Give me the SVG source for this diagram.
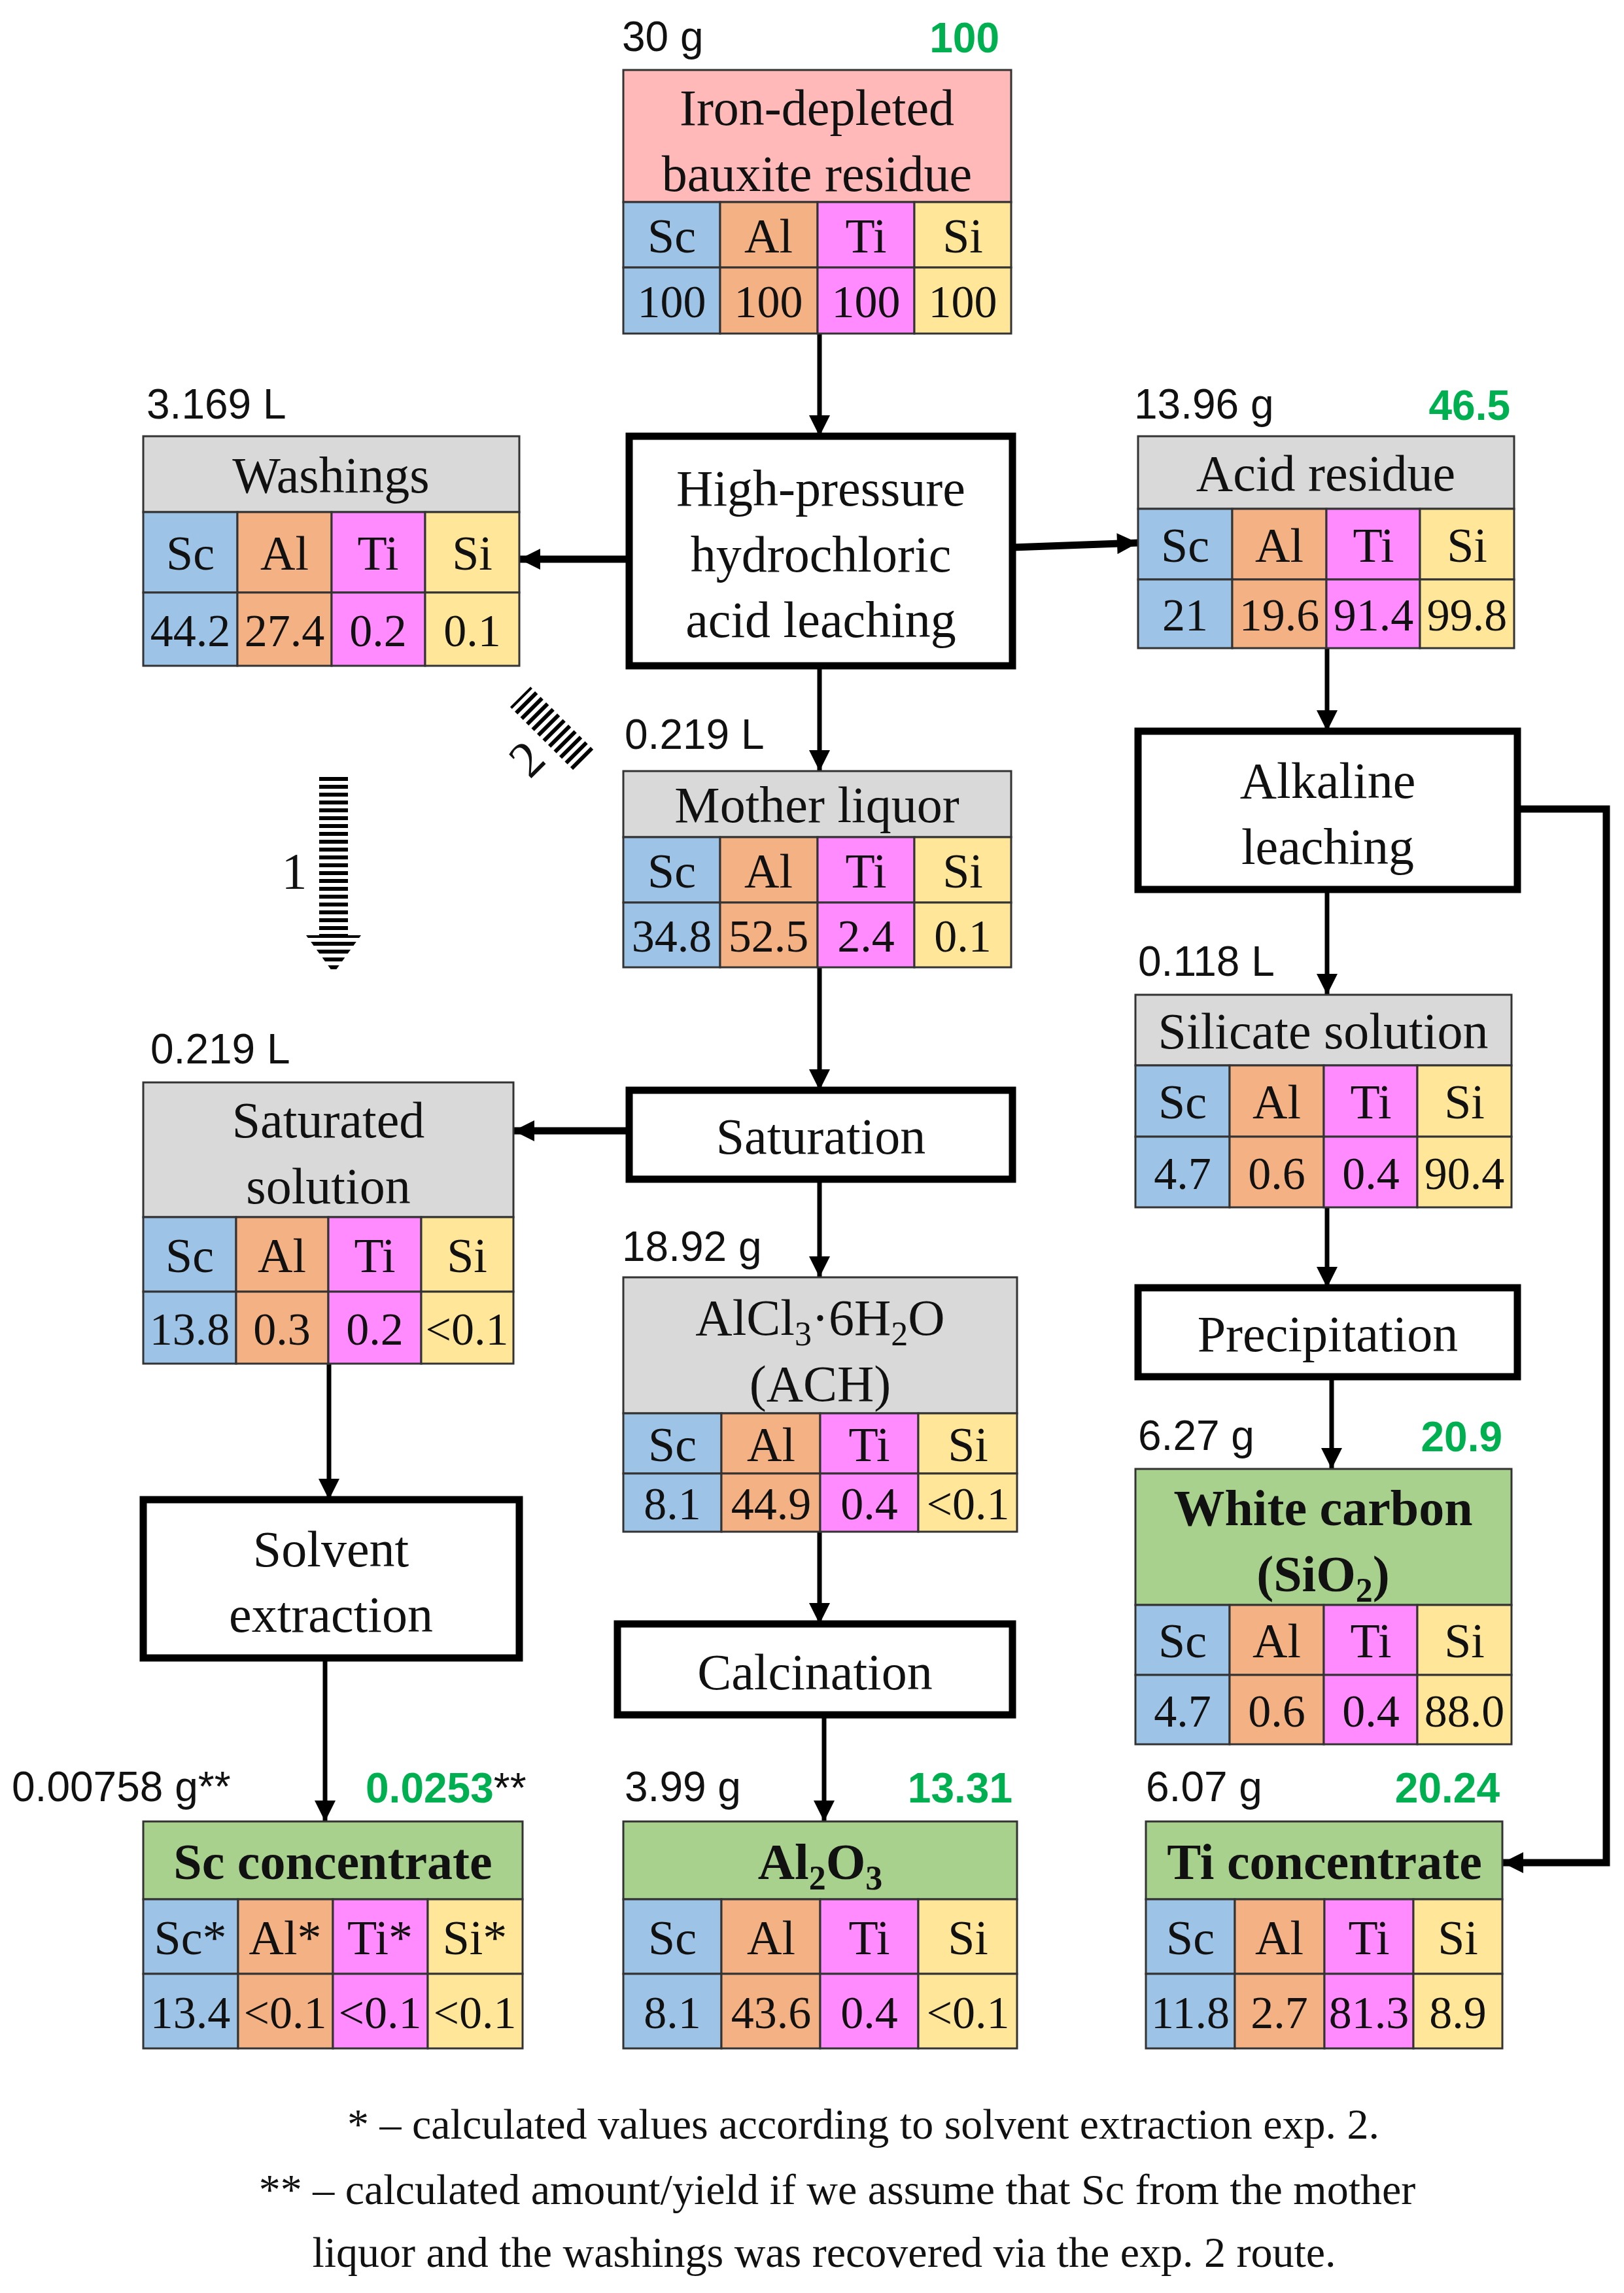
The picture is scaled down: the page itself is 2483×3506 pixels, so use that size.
<svg xmlns="http://www.w3.org/2000/svg" width="2483" height="3506" viewBox="0 0 2483 3506">
<style>
.b{fill:#9DC3E6;stroke:#333;stroke-width:3}
.o{fill:#F4B183;stroke:#333;stroke-width:3}
.m{fill:#FF8BFF;stroke:#333;stroke-width:3}
.y{fill:#FFE699;stroke:#333;stroke-width:3}
.g{fill:#D9D9D9;stroke:#333;stroke-width:3}
.p{fill:#FFB9B9;stroke:#333;stroke-width:3}
.gr{fill:#A9D18E;stroke:#333;stroke-width:3}
.proc{fill:#fff;stroke:#000;stroke-width:11}
text{font-family:"Liberation Serif","Times New Roman",serif;fill:#111;text-anchor:middle}
.t{font-size:78px}
.c{font-size:74px}
.v{font-size:70px}
.bd{font-weight:bold}
.lab{font-family:"Liberation Sans",Arial,sans-serif;font-size:64px;text-anchor:start}
.yl{font-family:"Liberation Sans",Arial,sans-serif;font-size:64px;font-weight:bold;fill:#00B050;text-anchor:end}
.fn{font-size:66px}
.ln{fill:none;stroke:#000;stroke-width:7}
.lt{fill:none;stroke:#000;stroke-width:11}
</style>
<defs>
<marker id="ah" markerUnits="userSpaceOnUse" viewBox="0 0 10 10" refX="10" refY="5" markerWidth="34" markerHeight="32" orient="auto"><path d="M0,0 L10,5 L0,10 z" fill="#000"/></marker>
<pattern id="hs" patternUnits="userSpaceOnUse" width="20" height="12"><rect width="20" height="6" fill="#000"/></pattern>
</defs>

<g id="connectors">
<path class="ln" d="M1253,510 V667" marker-end="url(#ah)"/>
<path class="lt" d="M962,855 H794" marker-end="url(#ah)"/>
<path class="lt" d="M1548,837 L1740,830" marker-end="url(#ah)"/>
<path class="ln" d="M1253,1018 V1179" marker-end="url(#ah)"/>
<path class="ln" d="M2029,991 V1118" marker-end="url(#ah)"/>
<path class="lt" d="M2320,1237 H2456 V2848 H2297" marker-end="url(#ah)"/>
<path class="ln" d="M2029,1360 V1521" marker-end="url(#ah)"/>
<path class="ln" d="M2029,1846 V1969" marker-end="url(#ah)"/>
<path class="ln" d="M2036,2105 V2246" marker-end="url(#ah)"/>
<path class="ln" d="M1253,1479 V1667" marker-end="url(#ah)"/>
<path class="lt" d="M962,1729 H785" marker-end="url(#ah)"/>
<path class="ln" d="M1253,1803 V1953" marker-end="url(#ah)"/>
<path class="ln" d="M1253,2342 V2483" marker-end="url(#ah)"/>
<path class="ln" d="M1260,2622 V2785" marker-end="url(#ah)"/>
<path class="ln" d="M503,2085 V2293" marker-end="url(#ah)"/>
<path class="ln" d="M497,2535 V2785" marker-end="url(#ah)"/>
</g>

<g id="hatch1">
<rect x="488" y="1186" width="44" height="244" fill="url(#hs)"/>
<polygon points="468,1430 552,1430 510,1488" fill="url(#hs)"/>
<text class="t" x="450" y="1358">1</text>
</g>
<g id="hatch2" transform="translate(845,1115) rotate(-45)">
<rect x="-22" y="-70" width="44" height="140" fill="url(#hs)"/>
<text class="t" x="-60" y="30" transform="rotate(0)">2</text>
</g>

<g id="n1">
<text class="lab" x="951" y="78">30 g</text><text class="yl" x="1528" y="80">100</text>
<rect class="p" x="953" y="107" width="593" height="202"/>
<text class="t" x="1249" y="191">Iron-depleted</text><text class="t" x="1249" y="292">bauxite residue</text>
<rect class="b" x="953" y="309" width="148" height="100"/><rect class="o" x="1101" y="309" width="149" height="100"/><rect class="m" x="1250" y="309" width="148" height="100"/><rect class="y" x="1398" y="309" width="148" height="100"/>
<rect class="b" x="953" y="409" width="148" height="101"/><rect class="o" x="1101" y="409" width="149" height="101"/><rect class="m" x="1250" y="409" width="148" height="101"/><rect class="y" x="1398" y="409" width="148" height="101"/>
<text class="c" x="1027" y="386">Sc</text><text class="c" x="1175" y="386">Al</text><text class="c" x="1324" y="386">Ti</text><text class="c" x="1472" y="386">Si</text>
<text class="v" x="1027" y="485">100</text><text class="v" x="1175" y="485">100</text><text class="v" x="1324" y="485">100</text><text class="v" x="1472" y="485">100</text>
</g>

<g id="leach">
<rect class="proc" x="962" y="667" width="586" height="351"/>
<text class="t" x="1255" y="773">High-pressure</text><text class="t" x="1255" y="874">hydrochloric</text><text class="t" x="1255" y="974">acid leaching</text>
</g>

<g id="washings">
<text class="lab" x="224" y="640">3.169 L</text>
<rect class="g" x="219" y="667" width="575" height="116"/>
<text class="t" x="506" y="753">Washings</text>
<rect class="b" x="219" y="783" width="144" height="123"/><rect class="o" x="363" y="783" width="144" height="123"/><rect class="m" x="507" y="783" width="143" height="123"/><rect class="y" x="650" y="783" width="144" height="123"/>
<rect class="b" x="219" y="906" width="144" height="112"/><rect class="o" x="363" y="906" width="144" height="112"/><rect class="m" x="507" y="906" width="143" height="112"/><rect class="y" x="650" y="906" width="144" height="112"/>
<text class="c" x="291" y="871">Sc</text><text class="c" x="435" y="871">Al</text><text class="c" x="578" y="871">Ti</text><text class="c" x="722" y="871">Si</text>
<text class="v" x="291" y="988">44.2</text><text class="v" x="435" y="988">27.4</text><text class="v" x="578" y="988">0.2</text><text class="v" x="722" y="988">0.1</text>
</g>

<g id="acid">
<text class="lab" x="1734" y="640">13.96 g</text><text class="yl" x="2309" y="642">46.5</text>
<rect class="g" x="1740" y="667" width="575" height="111"/>
<text class="t" x="2027" y="750">Acid residue</text>
<rect class="b" x="1740" y="778" width="144" height="108"/><rect class="o" x="1884" y="778" width="144" height="108"/><rect class="m" x="2028" y="778" width="143" height="108"/><rect class="y" x="2171" y="778" width="144" height="108"/>
<rect class="b" x="1740" y="886" width="144" height="105"/><rect class="o" x="1884" y="886" width="144" height="105"/><rect class="m" x="2028" y="886" width="143" height="105"/><rect class="y" x="2171" y="886" width="144" height="105"/>
<text class="c" x="1812" y="859">Sc</text><text class="c" x="1956" y="859">Al</text><text class="c" x="2100" y="859">Ti</text><text class="c" x="2243" y="859">Si</text>
<text class="v" x="1812" y="964">21</text><text class="v" x="1956" y="964">19.6</text><text class="v" x="2100" y="964">91.4</text><text class="v" x="2243" y="964">99.8</text>
</g>

<g id="mother">
<text class="lab" x="955" y="1145">0.219 L</text>
<rect class="g" x="953" y="1179" width="593" height="101"/>
<text class="t" x="1249" y="1257">Mother liquor</text>
<rect class="b" x="953" y="1280" width="148" height="100"/><rect class="o" x="1101" y="1280" width="149" height="100"/><rect class="m" x="1250" y="1280" width="148" height="100"/><rect class="y" x="1398" y="1280" width="148" height="100"/>
<rect class="b" x="953" y="1380" width="148" height="99"/><rect class="o" x="1101" y="1380" width="149" height="99"/><rect class="m" x="1250" y="1380" width="148" height="99"/><rect class="y" x="1398" y="1380" width="148" height="99"/>
<text class="c" x="1027" y="1357">Sc</text><text class="c" x="1175" y="1357">Al</text><text class="c" x="1324" y="1357">Ti</text><text class="c" x="1472" y="1357">Si</text>
<text class="v" x="1027" y="1455">34.8</text><text class="v" x="1175" y="1455">52.5</text><text class="v" x="1324" y="1455">2.4</text><text class="v" x="1472" y="1455">0.1</text>
</g>

<g id="alkaline">
<rect class="proc" x="1740" y="1118" width="580" height="242"/>
<text class="t" x="2030" y="1220">Alkaline</text><text class="t" x="2030" y="1321">leaching</text>
</g>

<g id="silicate">
<text class="lab" x="1740" y="1492">0.118 L</text>
<rect class="g" x="1736" y="1521" width="575" height="108"/>
<text class="t" x="2023" y="1603">Silicate solution</text>
<rect class="b" x="1736" y="1629" width="144" height="109"/><rect class="o" x="1880" y="1629" width="144" height="109"/><rect class="m" x="2024" y="1629" width="143" height="109"/><rect class="y" x="2167" y="1629" width="144" height="109"/>
<rect class="b" x="1736" y="1738" width="144" height="108"/><rect class="o" x="1880" y="1738" width="144" height="108"/><rect class="m" x="2024" y="1738" width="143" height="108"/><rect class="y" x="2167" y="1738" width="144" height="108"/>
<text class="c" x="1808" y="1710">Sc</text><text class="c" x="1952" y="1710">Al</text><text class="c" x="2096" y="1710">Ti</text><text class="c" x="2239" y="1710">Si</text>
<text class="v" x="1808" y="1818">4.7</text><text class="v" x="1952" y="1818">0.6</text><text class="v" x="2096" y="1818">0.4</text><text class="v" x="2239" y="1818">90.4</text>
</g>

<g id="precip">
<rect class="proc" x="1740" y="1969" width="580" height="136"/>
<text class="t" x="2030" y="2066">Precipitation</text>
</g>

<g id="saturation">
<rect class="proc" x="962" y="1667" width="586" height="136"/>
<text class="t" x="1255" y="1764">Saturation</text>
</g>

<g id="satsol">
<text class="lab" x="230" y="1626">0.219 L</text>
<rect class="g" x="219" y="1655" width="566" height="206"/>
<text class="t" x="502" y="1739">Saturated</text><text class="t" x="502" y="1840">solution</text>
<rect class="b" x="219" y="1861" width="142" height="114"/><rect class="o" x="361" y="1861" width="141" height="114"/><rect class="m" x="502" y="1861" width="142" height="114"/><rect class="y" x="644" y="1861" width="141" height="114"/>
<rect class="b" x="219" y="1975" width="142" height="110"/><rect class="o" x="361" y="1975" width="141" height="110"/><rect class="m" x="502" y="1975" width="142" height="110"/><rect class="y" x="644" y="1975" width="141" height="110"/>
<text class="c" x="290" y="1945">Sc</text><text class="c" x="431" y="1945">Al</text><text class="c" x="573" y="1945">Ti</text><text class="c" x="714" y="1945">Si</text>
<text class="v" x="290" y="2056">13.8</text><text class="v" x="431" y="2056">0.3</text><text class="v" x="573" y="2056">0.2</text><text class="v" x="714" y="2056">&lt;0.1</text>
</g>

<g id="ach">
<text class="lab" x="951" y="1928">18.92 g</text>
<rect class="g" x="953" y="1953" width="602" height="208"/>
<text class="t" x="1254" y="2041">AlCl<tspan font-size="52" dy="16">3</tspan><tspan dy="-16">·6H</tspan><tspan font-size="52" dy="16">2</tspan><tspan dy="-16">O</tspan></text>
<text class="t" x="1254" y="2142">(ACH)</text>
<rect class="b" x="953" y="2161" width="150" height="92"/><rect class="o" x="1103" y="2161" width="151" height="92"/><rect class="m" x="1254" y="2161" width="150" height="92"/><rect class="y" x="1404" y="2161" width="151" height="92"/>
<rect class="b" x="953" y="2253" width="150" height="89"/><rect class="o" x="1103" y="2253" width="151" height="89"/><rect class="m" x="1254" y="2253" width="150" height="89"/><rect class="y" x="1404" y="2253" width="151" height="89"/>
<text class="c" x="1028" y="2234">Sc</text><text class="c" x="1179" y="2234">Al</text><text class="c" x="1329" y="2234">Ti</text><text class="c" x="1480" y="2234">Si</text>
<text class="v" x="1028" y="2323">8.1</text><text class="v" x="1179" y="2323">44.9</text><text class="v" x="1329" y="2323">0.4</text><text class="v" x="1480" y="2323">&lt;0.1</text>
</g>

<g id="whitecarbon">
<text class="lab" x="1740" y="2217">6.27 g</text><text class="yl" x="2297" y="2219">20.9</text>
<rect class="gr" x="1736" y="2246" width="575" height="208"/>
<text class="t bd" x="2023" y="2332">White carbon</text>
<text class="t bd" x="2023" y="2433">(SiO<tspan font-size="52" dy="16">2</tspan><tspan dy="-16">)</tspan></text>
<rect class="b" x="1736" y="2454" width="144" height="107"/><rect class="o" x="1880" y="2454" width="144" height="107"/><rect class="m" x="2024" y="2454" width="143" height="107"/><rect class="y" x="2167" y="2454" width="144" height="107"/>
<rect class="b" x="1736" y="2561" width="144" height="106"/><rect class="o" x="1880" y="2561" width="144" height="106"/><rect class="m" x="2024" y="2561" width="143" height="106"/><rect class="y" x="2167" y="2561" width="144" height="106"/>
<text class="c" x="1808" y="2534">Sc</text><text class="c" x="1952" y="2534">Al</text><text class="c" x="2096" y="2534">Ti</text><text class="c" x="2239" y="2534">Si</text>
<text class="v" x="1808" y="2640">4.7</text><text class="v" x="1952" y="2640">0.6</text><text class="v" x="2096" y="2640">0.4</text><text class="v" x="2239" y="2640">88.0</text>
</g>

<g id="solvent">
<rect class="proc" x="219" y="2293" width="575" height="242"/>
<text class="t" x="506" y="2395">Solvent</text><text class="t" x="506" y="2495">extraction</text>
</g>

<g id="calcination">
<rect class="proc" x="944" y="2483" width="604" height="139"/>
<text class="t" x="1246" y="2583">Calcination</text>
</g>

<g id="scconc">
<text class="lab" x="18" y="2754">0.00758 g**</text>
<text class="lab" x="559" y="2756"><tspan font-weight="bold" fill="#00B050">0.0253</tspan>**</text>
<rect class="gr" x="219" y="2785" width="580" height="119"/>
<text class="t bd" x="509" y="2873">Sc concentrate</text>
<rect class="b" x="219" y="2904" width="145" height="114"/><rect class="o" x="364" y="2904" width="145" height="114"/><rect class="m" x="509" y="2904" width="145" height="114"/><rect class="y" x="654" y="2904" width="145" height="114"/>
<rect class="b" x="219" y="3018" width="145" height="114"/><rect class="o" x="364" y="3018" width="145" height="114"/><rect class="m" x="509" y="3018" width="145" height="114"/><rect class="y" x="654" y="3018" width="145" height="114"/>
<text class="c" x="291" y="2988">Sc*</text><text class="c" x="436" y="2988">Al*</text><text class="c" x="581" y="2988">Ti*</text><text class="c" x="726" y="2988">Si*</text>
<text class="v" x="291" y="3101">13.4</text><text class="v" x="436" y="3101">&lt;0.1</text><text class="v" x="581" y="3101">&lt;0.1</text><text class="v" x="726" y="3101">&lt;0.1</text>
</g>

<g id="al2o3">
<text class="lab" x="955" y="2754">3.99 g</text><text class="yl" x="1548" y="2756">13.31</text>
<rect class="gr" x="953" y="2785" width="602" height="119"/>
<text class="t bd" x="1254" y="2873">Al<tspan font-size="52" dy="16">2</tspan><tspan dy="-16">O</tspan><tspan font-size="52" dy="16">3</tspan></text>
<rect class="b" x="953" y="2904" width="150" height="114"/><rect class="o" x="1103" y="2904" width="151" height="114"/><rect class="m" x="1254" y="2904" width="150" height="114"/><rect class="y" x="1404" y="2904" width="151" height="114"/>
<rect class="b" x="953" y="3018" width="150" height="114"/><rect class="o" x="1103" y="3018" width="151" height="114"/><rect class="m" x="1254" y="3018" width="150" height="114"/><rect class="y" x="1404" y="3018" width="151" height="114"/>
<text class="c" x="1028" y="2988">Sc</text><text class="c" x="1179" y="2988">Al</text><text class="c" x="1329" y="2988">Ti</text><text class="c" x="1480" y="2988">Si</text>
<text class="v" x="1028" y="3101">8.1</text><text class="v" x="1179" y="3101">43.6</text><text class="v" x="1329" y="3101">0.4</text><text class="v" x="1480" y="3101">&lt;0.1</text>
</g>

<g id="ticonc">
<text class="lab" x="1752" y="2754">6.07 g</text><text class="yl" x="2293" y="2756">20.24</text>
<rect class="gr" x="1752" y="2785" width="545" height="119"/>
<text class="t bd" x="2025" y="2873">Ti concentrate</text>
<rect class="b" x="1752" y="2904" width="136" height="114"/><rect class="o" x="1888" y="2904" width="137" height="114"/><rect class="m" x="2025" y="2904" width="136" height="114"/><rect class="y" x="2161" y="2904" width="136" height="114"/>
<rect class="b" x="1752" y="3018" width="136" height="114"/><rect class="o" x="1888" y="3018" width="137" height="114"/><rect class="m" x="2025" y="3018" width="136" height="114"/><rect class="y" x="2161" y="3018" width="136" height="114"/>
<text class="c" x="1820" y="2988">Sc</text><text class="c" x="1956" y="2988">Al</text><text class="c" x="2093" y="2988">Ti</text><text class="c" x="2229" y="2988">Si</text>
<text class="v" x="1820" y="3101">11.8</text><text class="v" x="1956" y="3101">2.7</text><text class="v" x="2093" y="3101">81.3</text><text class="v" x="2229" y="3101">8.9</text>
</g>

<g id="footnotes">
<text class="fn" x="1320" y="3270">* – calculated values according to solvent extraction exp. 2.</text>
<text class="fn" x="1280" y="3370">** – calculated amount/yield if we assume that Sc from the mother</text>
<text class="fn" x="1260" y="3466">liquor and the washings was recovered via the exp. 2 route.</text>
</g>
</svg>
